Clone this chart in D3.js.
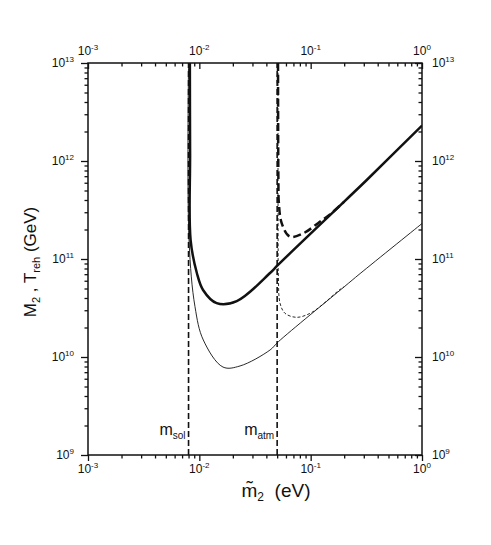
<!DOCTYPE html>
<html>
<head>
<meta charset="utf-8">
<script src="https://cdn.jsdelivr.net/npm/d3@7"></script>
<style>
  body { margin: 0; background: #fff; }
  text { font-family: "Liberation Sans", Arial, sans-serif; fill: #111; }
</style>
</head>
<body>
<div id="chart"></div>
<script>
const WIDTH = 491;
const HEIGHT = 545;

// decade ticks and their exponents
const xMajor = [1e-3, 1e-2, 1e-1, 1];
const xExp = ["-3", "-2", "-1", "0"];
const yMajor = [1e9, 1e10, 1e11, 1e12, 1e13];
const yExp = ["9", "10", "11", "12", "13"];

// neutrino mass scales (eV)
const markers = [
    { name: "sol", value: 0.008 },
    { name: "atm", value: 0.05 }
];

// curves: [m2 (eV), GeV]
const thickSolid = [
    [0.00822, 1e13], [0.00826, 1.2e12], [0.00835, 1.56e11], [0.0095, 7.2e10],
    [0.0108, 4.83e10], [0.0143, 3.55e10], [0.0217, 3.72e10], [0.0432, 7.2e10],
    [0.0509, 8.7e10], [0.2, 3.85e11], [0.319, 6.4e11], [1, 2.3e12]
];
const thickDashed = [
    [0.0509, 1e13], [0.0513, 6.4e11], [0.0518, 3.73e11], [0.055, 2.31e11],
    [0.065, 1.69e11], [0.086, 1.83e11], [0.121, 2.4e11], [0.149, 2.85e11],
    [0.2, 3.85e11]
];
const thinSolid = [
    [0.0080, 1e13], [0.00808, 1.56e11], [0.00914, 3.26e10], [0.01086, 1.49e10],
    [0.0163, 7.9e9], [0.0232, 8.1e9], [0.0432, 1.18e10], [0.0512, 1.43e10],
    [0.2, 5.2e10], [0.278, 7.1e10], [1, 2.3e11]
];
const thinDashed = [
    [0.0509, 1e13], [0.051, 1.56e11], [0.0513, 6.6e10], [0.0531, 3.53e10],
    [0.0589, 2.79e10], [0.075, 2.54e10], [0.0988, 2.79e10], [0.121, 3.26e10],
    [0.184, 4.9e10], [0.2, 5.2e10]
];

const margin = { top: 63, right: 69, bottom: 90, left: 88 };
const innerW = WIDTH - margin.left - margin.right;
const innerH = HEIGHT - margin.top - margin.bottom;

const svg = d3.select("#chart").append("svg")
    .attr("width", WIDTH)
    .attr("height", HEIGHT);

const x = d3.scaleLog().domain([1e-3, 1]).range([margin.left, margin.left + innerW]);
const y = d3.scaleLog().domain([1e9, 1e13]).range([margin.top + innerH, margin.top]);

function minorsOf(majors) {
    const out = [];
    majors.slice(0, -1).forEach(d => {
        for (let k = 2; k <= 9; k++) out.push(k * d);
    });
    return out;
}

function styleAxis(g) {
    g.select(".domain").remove();
    g.selectAll("line").attr("stroke", "#111").attr("stroke-width", 1.3);
}

// x ticks: both rows point down, y ticks: both columns point left
[margin.top, margin.top + innerH].forEach(py => {
    svg.append("g").attr("transform", `translate(0,${py})`)
        .call(d3.axisBottom(x).tickValues(xMajor).tickSize(6).tickFormat(""))
        .call(styleAxis);
    svg.append("g").attr("transform", `translate(0,${py})`)
        .call(d3.axisBottom(x).tickValues(minorsOf(xMajor)).tickSize(3.5).tickFormat(""))
        .call(styleAxis);
});
[margin.left, margin.left + innerW].forEach(px => {
    svg.append("g").attr("transform", `translate(${px},0)`)
        .call(d3.axisLeft(y).tickValues(yMajor).tickSize(7).tickFormat(""))
        .call(styleAxis);
    svg.append("g").attr("transform", `translate(${px},0)`)
        .call(d3.axisLeft(y).tickValues(minorsOf(yMajor)).tickSize(3.5).tickFormat(""))
        .call(styleAxis);
});

svg.append("rect")
    .attr("x", margin.left).attr("y", margin.top)
    .attr("width", innerW).attr("height", innerH)
    .attr("fill", "none").attr("stroke", "#111").attr("stroke-width", 1.5);

function powerLabel(sel, exp) {
    sel.append("tspan").text("10");
    sel.append("tspan").attr("font-size", 8).attr("dy", -5).text(exp);
}

// tick labels
xMajor.forEach((d, i) => {
    svg.append("text").attr("x", x(d)).attr("y", 55)
        .attr("text-anchor", "middle").attr("font-size", 12)
        .call(powerLabel, xExp[i]);
    svg.append("text").attr("x", x(d)).attr("y", 473)
        .attr("text-anchor", "middle").attr("font-size", 12)
        .call(powerLabel, xExp[i]);
});
yMajor.forEach((d, i) => {
    svg.append("text").attr("x", 74).attr("y", y(d) + 4)
        .attr("text-anchor", "end").attr("font-size", 12)
        .call(powerLabel, yExp[i]);
    svg.append("text").attr("x", 432).attr("y", y(d) + 4)
        .attr("text-anchor", "start").attr("font-size", 12)
        .call(powerLabel, yExp[i]);
});

// axis titles
const xTitle = svg.append("text")
    .attr("x", 276).attr("y", 497)
    .attr("text-anchor", "middle").attr("font-size", 19);
xTitle.append("tspan").text("m\u0303");
xTitle.append("tspan").attr("font-size", 12).attr("dy", 4).text("2");
xTitle.append("tspan").attr("dy", -4).text("\u00a0 (eV)");

const yTitle = svg.append("text")
    .attr("transform", "translate(36,262) rotate(-90)")
    .attr("text-anchor", "middle").attr("font-size", 17);
yTitle.append("tspan").text("M");
yTitle.append("tspan").attr("font-size", 11).attr("dy", 4).text("2");
yTitle.append("tspan").attr("dy", -4).text(" , T");
yTitle.append("tspan").attr("font-size", 11).attr("dy", 4).text("reh");
yTitle.append("tspan").attr("dy", -4).text(" (GeV)");

// clip for curves
svg.append("clipPath").attr("id", "plot-clip")
    .append("rect")
    .attr("x", margin.left).attr("y", margin.top)
    .attr("width", innerW).attr("height", innerH);

const plot = svg.append("g").attr("clip-path", "url(#plot-clip)");

// mass scale markers
markers.forEach(m => {
    plot.append("line")
        .attr("x1", x(m.value)).attr("x2", x(m.value))
        .attr("y1", y(1e9)).attr("y2", y(1e13))
        .attr("stroke", "#111").attr("stroke-width", 1.6)
        .attr("stroke-dasharray", "6,3");
    const lab = svg.append("text")
        .attr("x", x(m.value) - 3).attr("y", 435)
        .attr("text-anchor", "end").attr("font-size", 16);
    lab.append("tspan").text("m");
    lab.append("tspan").attr("font-size", 10).attr("dy", 4).text(m.name);
});

const line = d3.line()
    .x(d => x(d[0]))
    .y(d => y(d[1]))
    .curve(d3.curveCatmullRom.alpha(0.5));

const curves = [
    { data: thinSolid, width: 0.9, dash: null },
    { data: thinDashed, width: 0.9, dash: "3,2" },
    { data: thickSolid, width: 2.5, dash: null },
    { data: thickDashed, width: 2.5, dash: "8,4" }
];

curves.forEach(c => {
    plot.append("path")
        .datum(c.data)
        .attr("d", line)
        .attr("fill", "none")
        .attr("stroke", "#111")
        .attr("stroke-width", c.width)
        .attr("stroke-dasharray", c.dash);
});
</script>
</body>
</html>
